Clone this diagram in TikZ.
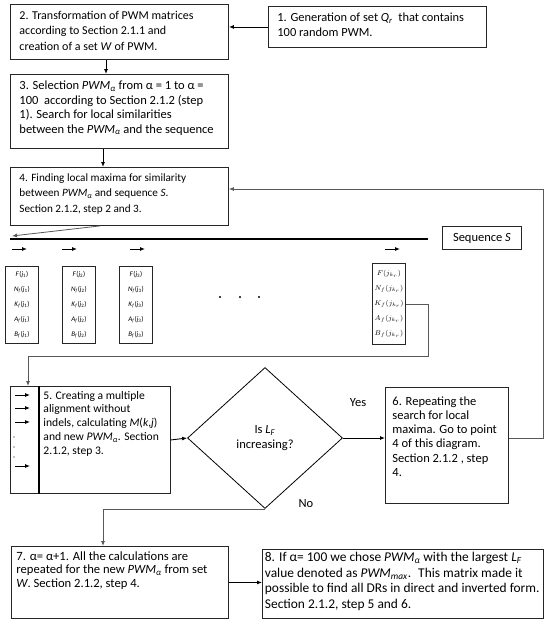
\documentclass[tikz,border=0pt]{standalone}
\usepackage{fontspec}
\setmainfont{Carlito}
\usetikzlibrary{shapes.geometric, arrows.meta}
\tikzset{>={Latex[width=4pt,length=5pt]}}
\newcommand{\pwm}{\textit{PWM}\textsubscript{\textit{α}}}
\newcommand{\steptext}[3]{\parbox[t][#2][t]{#1}{\raggedright\strut #3}}
\newcommand{\mrow}[3]{\textit{#1}\textsubscript{\textit{#2}}(\textit{j}\textsubscript{#3})}
\newcommand{\fs}[2]{\fontsize{#1}{#2}\selectfont}

\begin{document}
\begin{tikzpicture}[x=1pt, y=-1pt, font=\fs{12.5}{15}, stepbox/.style={draw=black!85, line width=0.9pt, anchor=north west, inner xsep=9pt, inner ysep=4pt}, matbox/.style={draw=black!85, line width=0.9pt, anchor=north west, inner sep=1pt, minimum width=33pt, minimum height=77pt, align=center, font=\fs{7}{15}}, seqbox/.style={draw=black!85, line width=0.9pt, anchor=north west, minimum width=79pt, minimum height=23pt, inner sep=0pt}, decision/.style={diamond, draw=black, line width=0.8pt, minimum width=155pt, minimum height=141pt, align=center, inner sep=0pt}, link/.style={draw=black!65, line width=0.8pt}, flow/.style={draw=black, line width=0.9pt, ->}]
    \useasboundingbox (0,0) rectangle (550,625);

    %Nodes
    \node[stepbox, inner ysep=4.5pt, font=\fs{12.4}{15}](step1) at (268,6) {\steptext{200pt}{32pt}{1. Generation of set \textit{Q}\textsubscript{\textit{r}}~ that contains\\100 random PWM.}};
    \node[stepbox, font=\fs{12}{15.5}](step2) at (10,4) {\steptext{200pt}{47pt}{2. Transformation of PWM matrices\\according to Section 2.1.1 and\\creation of a set \textit{W} of PWM.}};
    \node[stepbox, inner ysep=5pt, font=\fs{12.5}{14.5}](step3) at (10,74) {\steptext{200pt}{64pt}{3. Selection \pwm{} from α = 1 to α =\\100~ according to Section 2.1.2 (step\\1). Search for local similarities\\between the \pwm{} and the sequence}};
    \node[stepbox, inner ysep=3pt, font=\fs{11.2}{15.5}](step4) at (10,167) {\steptext{200pt}{52pt}{4. Finding local maxima for similarity\\between \pwm{} and sequence \textit{S}.\\Section 2.1.2, step 2 and 3.}};
    \node[seqbox](seq) at (442,226) {Sequence \textit{S}};
    \coordinate (seqleft) at (10,239);
    \coordinate (seqright) at (428,239);
    \coordinate (seqtip) at (12,236);
    \node[matbox](mat1) at (5,266) {\mrow{F}{}{1}\\\mrow{N}{f}{1}\\\mrow{K}{f}{1}\\\mrow{A}{f}{1}\\\mrow{B}{f}{1}};
    \node[matbox](mat2) at (62,266) {\mrow{F}{}{2}\\\mrow{N}{f}{2}\\\mrow{K}{f}{2}\\\mrow{A}{f}{2}\\\mrow{B}{f}{2}};
    \node[matbox](mat3) at (119,266) {\mrow{F}{}{3}\\\mrow{N}{f}{3}\\\mrow{K}{f}{3}\\\mrow{A}{f}{3}\\\mrow{B}{f}{3}};
    \node[matbox, minimum height=81pt](matr) at (372,263) {$F(j_{k_r})$\\$N_f(j_{k_r})$\\$K_f(j_{k_r})$\\$A_f(j_{k_r})$\\$B_f(j_{k_r})$};
    \coordinate (kturn) at (428,356);
    \node[stepbox, inner xsep=2pt, inner ysep=3pt, font=\fs{11.6}{13.8}](step5) at (10,386) {\hspace*{31pt}\steptext{125pt}{101pt}{5. Creating a multiple\\alignment without\\indels, calculating \textit{M}(\textit{k},\textit{j})\\and new \pwm. Section\\2.1.2, step 3.}};
    \node[decision](decide) at (265,438) {Is \textit{L}\textsubscript{\textit{F}}\\increasing?};
    \node(yes) at (358,403) {Yes};
    \node(no) at (306,504) {No};
    \node[stepbox, inner xsep=7pt, inner ysep=8pt, font=\fs{12.5}{14.2}](step6) at (385,387) {\steptext{109pt}{100pt}{6. Repeating the\\search for local\\maxima. Go to point\\4 of this diagram.\\Section 2.1.2 , step\\4.}};
    \coordinate (loopturn) at (543,189);
    \node[stepbox, inner xsep=5pt, inner ysep=4.5pt, font=\fs{12.6}{13.4}](step7) at (11,546) {\steptext{207pt}{63pt}{7. α= α+1. All the calculations are\\repeated for the new \pwm{} from set\\\textit{W}. Section 2.1.2, step 4.}};
    \node[stepbox, inner xsep=2.5pt, inner ysep=1pt, font=\fs{13.4}{15.7}](step8) at (262,549) {\steptext{276pt}{67pt}{8. If α= 100 we chose \pwm{} with the largest \textit{L}\textsubscript{\textit{F}}\\value denoted as \textit{PWM}\textsubscript{\textit{max}}.~ This matrix made it\\possible to find all DRs in direct and inverted form.\\Section 2.1.2, step 5 and 6.}};

    %Marks
    \draw[line width=2.5pt] (seqleft) -- (seqright);
    \foreach \x in {12,62,130,385} \draw[->, line width=0.9pt] (\x,249) -- ++(15,0);
    \foreach \x in {220,240,259} \fill (\x,297) circle (1.1pt);
    \draw[line width=1.2pt] ([xshift=29pt]step5.north west) -- ([xshift=29pt]step5.south west);
    \foreach \y in {395,408,422,466} \draw[->, line width=0.9pt] (15,\y) -- (30,\y);
    \foreach \y in {437,447,457} \fill (14,\y) circle (0.6pt);

    %Lines
    \draw[flow] (step1.west) -- (step1.west -| step2.east);
    \draw[flow] ([xshift=96pt]step2.south west) -- ([xshift=96pt]step3.north west);
    \draw[flow] ([xshift=93pt]step3.south west) -- ([xshift=93pt]step4.north west);
    \draw[link, ->] ([xshift=90pt]step4.south west) -- (seqtip);
    \draw[link, ->] (matr.east) -| (kturn) -| ([xshift=18pt]step5.north west);
    \draw[flow] (step5.east) -- (decide.west);
    \draw[flow] (decide.east) -- (decide.east -| step6.west);
    \draw[link, ->] ([yshift=7pt]step6.east) -| (loopturn) -- (loopturn -| step4.east);
    \draw[link, ->] (decide.south) -| ([xshift=92pt]step7.north west);
    \draw[flow] (step7.east) -- (step7.east -| step8.west);

\end{tikzpicture}
\end{document}
